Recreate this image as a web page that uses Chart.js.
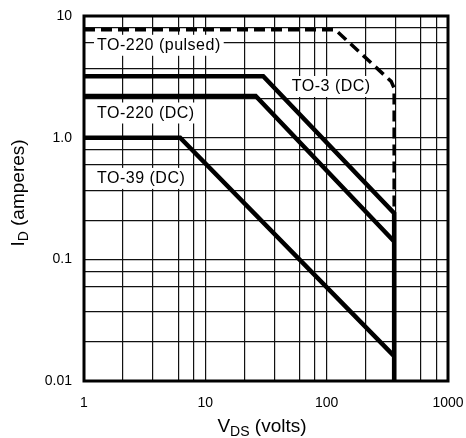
<!DOCTYPE html>
<html>
<head>
<meta charset="utf-8">
<script src="https://cdn.jsdelivr.net/npm/chart.js@4/dist/chart.umd.min.js"></script>
<style>
  html, body { margin: 0; padding: 0; background: #fff; }
  #wrap { width: 466px; height: 438px; position: relative; }
</style>
</head>
<body>
<div id="wrap"><canvas id="soaChart"></canvas></div>
<script>
// safe operating area curves
const pulsedV = [1, 118, 340, 360, 360];
const pulsedI = [7.7, 7.7, 2.9, 2.55, 0.24];
const to3V = [1, 30, 360, 360];
const to3I = [3.2, 3.2, 0.24, 0.01];
const to220V = [1, 26, 360];
const to220I = [2.2, 2.2, 0.14];
const to39V = [1, 6.2, 360];
const to39I = [1.0, 1.0, 0.016];

// axis ticks
const xTickValues = [1, 10, 100, 1000];
const xTickLabels = ['1', '10', '100', '1000'];
const yTickValues = [0.01, 0.1, 1, 10];
const yTickLabels = ['0.01', '0.1', '1.0', '10'];

// the paper's grid lines (not the usual 2..9 log minors)
const xGrid = [1, 2.1, 3.7, 6, 8, 10, 21, 37, 60, 80, 100, 210, 370, 600, 800, 1000];
const yGrid = [0.01, 0.021, 0.037, 0.06, 0.08, 0.1, 0.21, 0.37, 0.6, 0.8, 1, 2.1, 3.7, 6, 8, 10];

// curve labels: text and anchor (left edge, vertical centre) in data units
const curveLabels = [
    { text: 'TO-220 (pulsed)', v: 1.28, i: 5.8 },
    { text: 'TO-3 (DC)', v: 51.6, i: 2.66 },
    { text: 'TO-220 (DC)', v: 1.28, i: 1.61 },
    { text: 'TO-39 (DC)', v: 1.28, i: 0.467 }
];

const FONT = '"Liberation Sans", Arial, Helvetica, sans-serif';

function toPoints(xs, ys) {
    return xs.map((x, k) => ({ x: x, y: ys[k] }));
}

function tickLabel(values, labels) {
    return function (value) {
        for (let k = 0; k < values.length; k++) {
            if (Math.abs(value - values[k]) < values[k] * 1e-6) return labels[k];
        }
        return '';
    };
}

// white boxed labels go under the curves but over the grid
const labelPlugin = {
    id: 'curveLabels',
    beforeDatasetsDraw(chart) {
        const ctx = chart.ctx;
        const xs = chart.scales.x, ys = chart.scales.y;
        ctx.save();
        ctx.font = '16px ' + FONT;
        ctx.letterSpacing = '0.5px';
        ctx.textBaseline = 'middle';
        ctx.textAlign = 'left';
        curveLabels.forEach(l => {
            const px = xs.getPixelForValue(l.v);
            const py = ys.getPixelForValue(l.i);
            const w = ctx.measureText(l.text).width;
            ctx.fillStyle = '#fff';
            ctx.fillRect(px - 3, py - 10, w + 6, 21);
            ctx.fillStyle = '#000';
            ctx.fillText(l.text, px, py + 1);
        });
        ctx.restore();
    },
    afterDraw(chart) {
        const ctx = chart.ctx;
        const a = chart.chartArea;
        ctx.save();
        // frame
        ctx.strokeStyle = '#000';
        ctx.lineWidth = 3;
        ctx.strokeRect(a.left, a.top, a.right - a.left, a.bottom - a.top);

        // axis titles with subscripts
        ctx.fillStyle = '#000';
        ctx.textBaseline = 'alphabetic';
        const drawSub = (main, sub, rest, cx, cy) => {
            ctx.font = '19px ' + FONT;
            const w1 = ctx.measureText(main).width;
            const w3 = ctx.measureText(rest).width;
            ctx.font = '14px ' + FONT;
            const w2 = ctx.measureText(sub).width;
            let x = cx - (w1 + w2 + w3) / 2;
            ctx.textAlign = 'left';
            ctx.font = '19px ' + FONT;
            ctx.fillText(main, x, cy);
            x += w1;
            ctx.font = '14px ' + FONT;
            ctx.fillText(sub, x, cy + 4);
            x += w2;
            ctx.font = '19px ' + FONT;
            ctx.fillText(rest, x, cy);
        };
        drawSub('V', 'DS', ' (volts)', (a.left + a.right) / 2 - 4, 432);

        ctx.translate(24, 193);
        ctx.rotate(-Math.PI / 2);
        drawSub('I', 'D', ' (amperes)', 0, 0);
        ctx.restore();
    }
};

function createChart(ctx) {
    const lineStyle = { showLine: true, pointRadius: 0, borderColor: '#000', fill: false, tension: 0, borderJoinStyle: 'miter', borderCapStyle: 'butt' };
    return new Chart(ctx, {
        type: 'scatter',
        data: {
            datasets: [
                Object.assign({ label: 'TO-220 (pulsed)', data: toPoints(pulsedV, pulsedI), borderWidth: 3.5, borderDash: [11, 6] }, lineStyle),
                Object.assign({ label: 'TO-3 (DC)', data: toPoints(to3V, to3I), borderWidth: 4.5 }, lineStyle),
                Object.assign({ label: 'TO-220 (DC)', data: toPoints(to220V, to220I), borderWidth: 4.5 }, lineStyle),
                Object.assign({ label: 'TO-39 (DC)', data: toPoints(to39V, to39I), borderWidth: 4.5 }, lineStyle)
            ]
        },
        options: {
            responsive: true,
            maintainAspectRatio: false,
            animation: false,
            layout: { padding: { top: 16, right: 18, left: 0, bottom: 0 } },
            plugins: { legend: { display: false }, tooltip: { enabled: false } },
            scales: {
                x: {
                    type: 'logarithmic',
                    min: 1,
                    max: 1000,
                    afterBuildTicks: s => { s.ticks = xGrid.map(v => ({ value: v })); },
                    afterFit: s => { s.height = 57; s.paddingLeft = 0; s.paddingRight = 0; },
                    grid: { color: '#111', lineWidth: 1.2, drawTicks: false },
                    border: { display: false },
                    ticks: {
                        autoSkip: false,
                        maxRotation: 0,
                        padding: 14,
                        color: '#000',
                        font: { family: FONT, size: 14 },
                        callback: tickLabel(xTickValues, xTickLabels)
                    }
                },
                y: {
                    type: 'logarithmic',
                    min: 0.01,
                    max: 10,
                    afterBuildTicks: s => { s.ticks = yGrid.map(v => ({ value: v })); },
                    afterFit: s => { s.width = 84; s.paddingTop = 0; s.paddingBottom = 0; },
                    grid: { color: '#111', lineWidth: 1.2, drawTicks: false },
                    border: { display: false },
                    ticks: {
                        autoSkip: false,
                        padding: 12,
                        color: '#000',
                        font: { family: FONT, size: 14 },
                        callback: tickLabel(yTickValues, yTickLabels)
                    }
                }
            }
        },
        plugins: [labelPlugin]
    });
}

document.addEventListener('DOMContentLoaded', function () {
    const ctx = document.getElementById('soaChart').getContext('2d');
    createChart(ctx);
});
</script>
</body>
</html>
